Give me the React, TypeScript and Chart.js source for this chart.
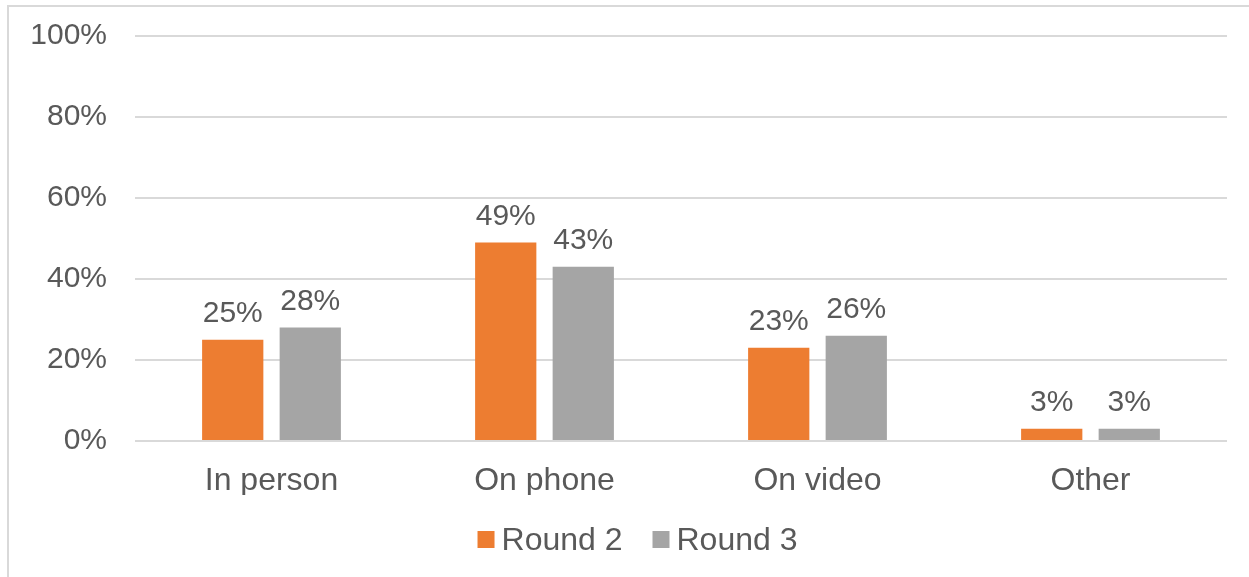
import React, { useEffect, useRef } from "react";
import { Chart, registerables } from "chart.js";

Chart.register(...registerables);

const categories = ["In person", "On phone", "On video", "Other"];
const round2 = [25, 49, 23, 3];
const round3 = [28, 43, 26, 3];
const seriesNames = ["Round 2", "Round 3"];
const seriesColors = ["#ED7D31", "#A5A5A5"];
const yTicks = [0, 20, 40, 60, 80, 100];

const FONT = "'Liberation Sans', Arial, sans-serif";
const TEXT = "#595959";
const FS = 32;
const FS_NUM = 30;

const dataLabels = {
  id: "dataLabels",
  afterDatasetsDraw(chart: any) {
    const ctx = chart.ctx;
    ctx.save();
    ctx.font = `${FS_NUM}px ${FONT}`;
    ctx.fillStyle = TEXT;
    ctx.textAlign = "center";
    ctx.textBaseline = "alphabetic";
    chart.data.datasets.forEach((ds: any, i: number) => {
      const meta = chart.getDatasetMeta(i);
      meta.data.forEach((el: any, j: number) => {
        ctx.fillText(`${ds.data[j]}%`, el.x, el.y - 18);
      });
    });
    ctx.restore();
  },
};

const customLegend = {
  id: "customLegend",
  afterDraw(chart: any) {
    const ctx = chart.ctx;
    ctx.save();
    ctx.font = `${FS}px ${FONT}`;
    ctx.textBaseline = "alphabetic";
    ctx.textAlign = "left";
    const box = 17;
    const gapText = 7;
    const gapItem = 30;
    const items = chart.data.datasets.map((ds: any) => ({
      text: ds.label,
      color: ds.backgroundColor,
      w: ctx.measureText(ds.label).width,
    }));
    const total = items.reduce((a: number, it: any, i: number) => a + box + gapText + it.w + (i > 0 ? gapItem : 0), 0);
    let x = 637.5 - total / 2;
    const baseline = 550;
    items.forEach((it: any, i: number) => {
      if (i > 0) x += gapItem;
      ctx.fillStyle = it.color;
      ctx.fillRect(x, baseline - 19, box, box);
      x += box + gapText;
      ctx.fillStyle = TEXT;
      ctx.fillText(it.text, x, baseline);
      x += it.w;
    });
    ctx.restore();
  },
};

export default function App() {
  const ref = useRef<HTMLCanvasElement>(null);
  useEffect(() => {
    if (!ref.current) return;
    const chart = new Chart(ref.current, {
      type: "bar",
      data: {
        labels: categories,
        datasets: [
          { label: seriesNames[0], data: round2, backgroundColor: seriesColors[0], borderWidth: 0 },
          { label: seriesNames[1], data: round3, backgroundColor: seriesColors[1], borderWidth: 0 },
        ],
      },
      options: {
        responsive: false,
        animation: false,
        devicePixelRatio: 1,
        layout: { padding: { left: 0, top: 36, right: 22, bottom: 82 } },
        datasets: {
          bar: { categoryPercentage: 0.568, barPercentage: 0.79 },
        } as any,
        plugins: {
          tooltip: { enabled: false },
          legend: { display: false },
        },
        scales: {
          x: {
            grid: { display: false, drawTicks: false },
            border: { display: false },
            ticks: { font: { family: FONT, size: FS }, color: TEXT, padding: 21 },
            afterFit: (s: any) => { s.height = 54; s.paddingLeft = 0; s.paddingRight = 0; },
          },
          y: {
            min: 0,
            max: 100,
            afterBuildTicks: (s: any) => { s.ticks = yTicks.map((v) => ({ value: v })); },
            grid: { color: "#D9D9D9", lineWidth: 2, drawTicks: false },
            border: { display: false },
            ticks: {
              font: { family: FONT, size: FS_NUM },
              color: TEXT,
              padding: 28,
              callback: (v: any) => `${v}%`,
            },
            afterFit: (s: any) => { s.width = 135; s.paddingTop = 0; s.paddingBottom = 0; },
          },
        },
      },
      plugins: [dataLabels, customLegend],
    });
    return () => chart.destroy();
  }, []);
  return (
    <div style={{ position: "fixed", left: 0, top: 0, width: 1249, height: 577, background: "#fff", overflow: "hidden" }}>
      <canvas ref={ref} width={1249} height={577} style={{ position: "absolute", left: 0, top: 0 }} />
      <div style={{ position: "absolute", left: 7, top: 5, width: 1400, height: 800, borderLeft: "2px solid #D9D9D9", borderTop: "2px solid #D9D9D9", pointerEvents: "none" }} />
    </div>
  );
}
